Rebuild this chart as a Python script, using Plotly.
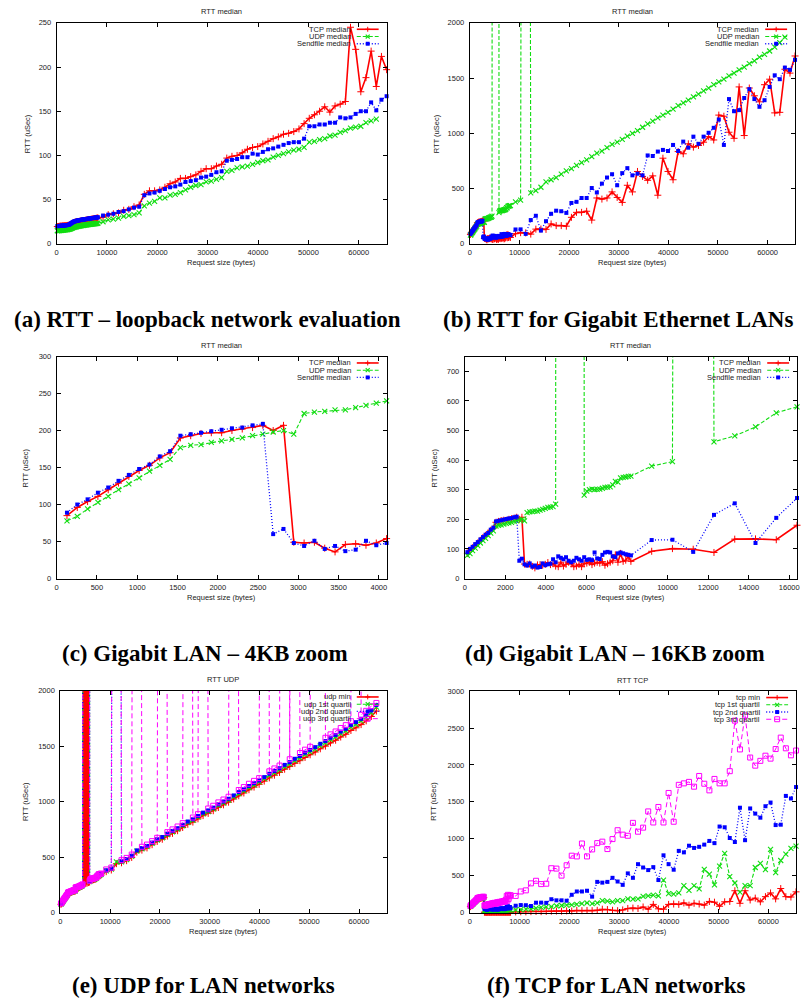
import plotly.graph_objects as go

W, H = 805, 1008

# request sizes (bytes): dense 128-byte steps up to 8 KB, then 1 KB steps up to 64 KB
SIZES = list(range(128, 8193, 128)) + list(range(9216, 65537, 1024))

# ---------------- (a) loopback medians ----------------
TCP_LO = [19.5, 19.6, 19.6, 19.8, 19.9, 20.0, 20.0, 20.1,
          20.2, 20.3, 20.3, 20.4, 20.5, 20.5, 20.6, 20.7,
          20.8, 20.9, 21.0, 21.2, 21.5, 21.9, 22.3, 22.8,
          23.2, 23.6, 24.0, 24.3, 24.5, 24.7, 24.9, 25.0,
          25.1, 25.2, 25.4, 25.5, 25.6, 25.8, 25.9, 26.0,
          26.1, 26.3, 26.4, 26.5, 26.6, 26.8, 26.9, 27.0,
          27.1, 27.3, 27.4, 27.5, 27.7, 27.8, 27.9, 28.1,
          28.2, 28.3, 28.5, 28.6, 28.8, 28.9, 29.1, 29.3,
          30, 33, 34, 35, 38, 39, 42, 44, 56, 60, 60, 61, 64, 68, 70, 74,
          74, 76, 78, 82, 85, 85, 88, 90, 97, 99, 100, 103, 107, 109, 110, 113,
          116, 119, 121, 124, 125, 127, 130, 136, 142, 146, 150, 155, 149, 156, 158, 161,
          245, 220, 172, 188, 218, 178, 212, 197]
UDP_LO = [14.8, 14.9, 15.0, 15.0, 15.1, 15.2, 15.3, 15.3,
          15.4, 15.5, 15.6, 15.7, 15.8, 15.9, 16.0, 16.1,
          16.2, 16.3, 16.5, 16.7, 17.0, 17.3, 17.6, 17.9,
          18.2, 18.5, 18.7, 18.9, 19.1, 19.3, 19.5, 19.7,
          19.8, 20.0, 20.1, 20.3, 20.4, 20.5, 20.7, 20.8,
          20.9, 21.0, 21.1, 21.3, 21.4, 21.5, 21.6, 21.7,
          21.8, 21.9, 22.0, 22.1, 22.2, 22.3, 22.4, 22.5,
          22.6, 22.7, 22.8, 22.9, 23.0, 23.1, 23.2, 23.4,
          25, 27, 28, 29, 31, 32, 33, 35, 43, 46, 48, 52, 52, 55, 56, 58,
          61, 64, 66, 67, 70, 71, 73, 75, 82, 83, 86, 87, 88, 90, 92, 94,
          95, 98, 100, 102, 104, 106, 107, 109, 115, 116, 118, 119, 122, 123, 126, 128,
          131, 132, 133, 137, 139, 141, None, None]
SF_LO = [20.0, 20.1, 20.1, 20.2, 20.3, 20.4, 20.5, 20.5,
         20.6, 20.7, 20.8, 20.8, 20.9, 21.0, 21.1, 21.2,
         21.3, 21.4, 21.6, 22.0, 22.5, 23.0, 23.5, 24.0,
         24.5, 24.9, 25.2, 25.5, 25.7, 25.9, 26.1, 26.3,
         26.4, 26.6, 26.7, 26.9, 27.0, 27.1, 27.3, 27.4,
         27.5, 27.6, 27.7, 27.9, 28.0, 28.1, 28.2, 28.3,
         28.4, 28.5, 28.6, 28.8, 28.9, 29.0, 29.1, 29.2,
         29.3, 29.4, 29.5, 29.6, 29.7, 29.8, 29.9, 30.0,
         32, 33, 34, 36, 37, 39, 41, 42, 55, 57, 58, 60, 62, 64, 65, 67,
         70, 71, 72, 75, 76, 78, 81, 82, 94, 95, 96, 98, 98, 102, 101, 104,
         107, 108, 110, 112, 114, 115, 115, 119, 133, 133, 135, 135, 137, 137, 143, 142,
         143, 147, 150, 150, 160, 151, 163, 167]

# ---------------- (b)(c)(d) Gigabit LAN medians ----------------
TCP_LAN = [85, 96, 104, 111, 120, 129, 138, 146, 153, 163, 170, 190, 193, 196, 197, 197,
           200, 202, 204, 207, 200, 207,
           49, 48, 49, 41, 36, 46, 47, 45, 48, 54,
           47, 50, 42, 40, 55, 42, 48, 55, 50, 40, 42, 48, 40, 50, 52, 55,
           47, 52, 55, 52, 57, 45, 50, 55, 60, 80, 55, 85, 58, 62, 75, 58,
           92, 101, 99, 88, 133, 134, 131, 180, 165, 165, 160, 240, 285, 285, 295, 215,
           415, 405, 415, 470, 420, 375, 530, 470, 655, 610, 575, 615, 440, 775, 655, 580,
           835, 815, 905, 875, 890, 920, 970, 940, 1165, 1155, 1010, 955, 1420, 980, 1410, 1340,
           1285, 1440, 1490, 1185, 1190, 1580, 1545, 1700]
UDP_LAN = [78, 84, 94, 103, 111, 120, 128, 136, 145, 153, 161, 177, 180, 181, 184, 186,
           188, 190, 193, 195, 198, 200,
           195, 223, 225, 226, 228, 228, 231, 234, 237, 240, 241, 243, 251,
           21400, 23800, 22600, 24100, 23300, 22900, 24700, 23600, 22200, 24400,
           282, 295, 300, 302, 300, 301, 302, 305, 308, 309, 310, 316, 328, 326, 340, 342,
           343, 345, 346,
           380, 395, 23900, 462, 482, 512, 560, 580,
           600, 630, 660, 680, 710, 735, 760, 790, 820, 840, 870, 900, 920, 945, 975, 1000,
           1025, 1055, 1085, 1110, 1140, 1165, 1190, 1220, 1250, 1275, 1300, 1330, 1355, 1385,
           1410, 1440, 1465, 1490, 1520, 1545, 1575, 1600, 1630, 1655, 1690, 1715, 1745, 1780,
           1820, 1870, None, None]
SF_LAN = [89, 100, 107, 116, 123, 132, 140, 148, 154, 165, 172, 193, 195, 197, 199, 201,
          203, 204, 207, 209, 60, 67,
          48, 44, 51, 40, 44, 37, 39, 51, 45, 48,
          50, 65, 55, 75, 70, 65, 72, 60, 55, 60, 70, 65, 60, 72, 63, 65,
          62, 88, 68, 66, 80, 88, 90, 88, 75, 72, 85, 88, 85, 82, 80, 78,
          130, 131, 90, 215, 254, 120, 205, 272, 300, 295, 280, 370, 380, 415, 415, 505,
          465, 545, 600, 630, 530, 640, 685, 620, 635, 620, 800, 795, 835, 850, 840, 895,
          840, 925, 870, 970, 905, 970, 1005, 1050, 1125, 895, 1310, 1200, 1210, 1320, 1400, 1310,
          1240, 1300, 1420, 1525, 1490, 1595, 1575, 1665]

# ---------------- (e) UDP quartiles (2nd quartile = UDP_LAN) ----------------
UDP_MIN = [74, 80, 90, 99, 107, 116, 124, 132, 140, 148, 156, 172, 175, 176, 179, 181,
           183, 185, 188, 190, 193, 195,
           190, 216, 219, 220, 222, 222, 225, 228, 231, 234, 235, 237, 244,
           255, 22800, 258, 23500, 262, 21900, 265, 24200, 270, 273,
           276, 288, 293, 295, 294, 295, 296, 299, 301, 302, 303, 308, 320, 319, 332, 334,
           335, 337, 338,
           368, 383, 440, 448, 467, 496, 543, 562,
           582, 611, 640, 660, 689, 713, 737, 766, 795, 815, 844, 873, 893, 917, 946, 970,
           994, 1023, 1052, 1077, 1106, 1130, 1155, 1184, 1213, 1237, 1262, 1291, 1315, 1344,
           1368, 1397, 1421, 1446, 1475, 1499, 1528, 1552, 1581, 1606, 1640, 1664, 1693, 1727,
           1766, 1815, None, None]
UDP_Q1 = [76, 82, 92, 101, 109, 118, 126, 134, 143, 151, 159, 175, 178, 179, 182, 184,
          186, 188, 191, 193, 196, 198,
          193, 220, 222, 223, 225, 225, 228, 231, 234, 237, 238, 240, 248,
          22100, 24300, 23000, 21800, 24600, 23200, 22400, 23900, 21600, 24800,
          279, 292, 297, 299, 297, 298, 299, 302, 305, 306, 307, 313, 325, 323, 337, 339,
          340, 342, 343,
          375, 390, 456, 456, 476, 506, 553, 573,
          593, 622, 652, 672, 701, 726, 751, 780, 810, 830, 859, 889, 909, 933, 963, 988,
          1013, 1042, 1072, 1097, 1126, 1151, 1176, 1206, 1235, 1260, 1285, 1315, 1340, 1369,
          1394, 1424, 1448, 1473, 1503, 1528, 1557, 1582, 1612, 1637, 1671, 1696, 1726, 1761,
          1801, 1851, None, None]
UDP_Q3 = [81, 87, 97, 106, 114, 123, 131, 139, 148, 156, 164, 180, 183, 184, 187, 189,
          191, 193, 196, 198, 201, 203,
          198, 226, 228, 229, 231, 231, 234, 237, 240, 243, 244, 246, 254,
          23700, 22500, 24900, 23100, 22000, 24500, 23400, 22700, 24100, 23000,
          286, 299, 304, 306, 304, 305, 306, 309, 312, 313, 314, 320, 332, 330, 344, 346,
          347, 349, 350,
          388, 405, 24300, 472, 492, 522, 23800, 592,
          612, 643, 673, 22900, 724, 749, 775, 805, 24600, 856, 886, 23400, 937, 962, 992, 1018,
          1043, 22100, 1104, 1130, 1160, 1186, 1211, 23700, 1272, 1298, 1324, 24200, 1381, 22800,
          1437, 1467, 1493, 23500, 24000, 1574, 1605, 1631, 1662, 1688, 1724, 22600, 1781, 1817,
          1858, 1888, None, None]

# ---------------- (f) TCP quartiles (2nd quartile = TCP_LAN) ----------------
TCP_MIN = [80, 91, 99, 106, 115, 124, 133, 141, 148, 158, 165, 185, 188, 191, 192, 192,
           195, 197, 199, 202, 195, 202,
           4, 3, 4, 2, 3, 4, 3, 5, 4, 3,
           3, 4, 3, 5, 4, 3, 4, 5, 3, 4, 4, 3, 5, 4, 3, 4,
           5, 4, 3, 4, 5, 3, 4, 4, 5, 3, 4, 5, 4, 3, 5, 4,
           8, 10, 9, 12, 14, 12, 15, 18, 20, 18, 22, 20, 30, 25, 28, 25,
           30, 45, 40, 30, 25, 35, 55, 60, 55, 75, 45, 110, 50, 45, 110, 115,
           110, 130, 100, 125, 115, 100, 150, 140, 85, 145, 150, 295, 125, 295, 170, 195,
           145, 215, 265, 185, 325, 215, 210, 280]
TCP_Q1 = [83, 94, 102, 109, 118, 127, 136, 144, 151, 161, 168, 188, 191, 194, 195, 195,
          198, 200, 202, 205, 198, 205,
          30, 28, 31, 27, 25, 29, 30, 28, 31, 33,
          30, 32, 29, 28, 34, 29, 31, 34, 32, 28, 29, 31, 28, 32, 33, 34,
          30, 33, 34, 33, 35, 30, 32, 34, 36, 42, 35, 44, 36, 38, 41, 36,
          35, 40, 45, 50, 60, 70, 75, 80, 90, 95, 100, 105, 110, 120, 130, 120,
          130, 160, 155, 145, 160, 160, 185, 180, 185, 220, 225, 235, 225, 440, 255, 250,
          265, 365, 300, 365, 320, 585, 520, 375, 630, 800, 485, 400, 275, 365, 365, 610,
          665, 580, 855, 540, 705, 790, 870, 900]
TCP_Q3 = [90, 101, 109, 116, 125, 134, 143, 151, 158, 168, 175, 195, 198, 201, 202, 203,
          206, 208, 210, 213, 207, 214,
          95, 100, 92, 105, 98, 110, 104, 115, 108, 112,
          118, 110, 125, 115, 128, 120, 132, 125, 118, 135, 128, 140, 130, 138, 145, 135,
          142, 150, 140, 148, 155, 145, 160, 150, 175, 225, 160, 240, 185, 230, 220, 235,
          225, 285, 300, 395, 430, 385, 390, 600, 595, 500, 640, 770, 760, 935, 760, 855,
          940, 960, 860, 995, 1115, 1055, 1040, 1215, 1095, 1150, 1370, 1220, 1430, 1220, 1620, 1230,
          1730, 1750, 1770, 1705, 1850, 1745, 1655, 1810, 1750, 1750, 1915, 2600, 2210, 2670, 2100, 1990,
          2055, 2125, 2085, 2215, 2370, 2225, 2130, 2195]

for arr in [TCP_LO, UDP_LO, SF_LO, TCP_LAN, UDP_LAN, SF_LAN, UDP_MIN, UDP_Q1, UDP_Q3,
            TCP_MIN, TCP_Q1, TCP_Q3]:
    assert len(arr) == len(SIZES), len(arr)

FONT = "Liberation Sans"
TXT = "#222222"

STYLE = {
    'red': dict(color='#ff0000', dash='solid', width=1.6, symbol='cross-thin', msize=5, mlw=1.0),
    'green': dict(color='#11dd11', dash='4px,2px', width=1.1, symbol='x-thin', msize=5, mlw=1.1),
    'blue': dict(color='#0000ff', dash='1px,2px', width=1.3, symbol='square', msize=4, mlw=0),
    'magenta': dict(color='#ff00ff', dash='5px,3px', width=1.0, symbol='square-open', msize=5, mlw=1.0),
}

PANELS = [
    dict(box=(55, 19, 387, 242), xmax=65536, xdt=10000, ymax=250, ydt=50, title='RTT median',
         series=[(TCP_LO, 'TCP median', 'red'), (UDP_LO, 'UDP median', 'green'),
                 (SF_LO, 'Sendfile median', 'blue')],
         caption='(a) RTT – loopback network evaluation', cap=(207, 318), ytd=30),
    dict(box=(470.7, 19, 798, 242), xmax=65536, xdt=10000, ymax=2000, ydt=500, title='RTT median',
         series=[(TCP_LAN, 'TCP median', 'red'), (UDP_LAN, 'UDP median', 'green'),
                 (SF_LAN, 'Sendfile median', 'blue')],
         caption='(b) RTT for Gigabit Ethernet LANs', cap=(620, 318), ytd=34),
    dict(box=(55, 355.7, 387, 579.7), xmax=4096, xdt=500, ymax=300, ydt=50, title='RTT median',
         series=[(TCP_LAN, 'TCP median', 'red'), (UDP_LAN, 'UDP median', 'green'),
                 (SF_LAN, 'Sendfile median', 'blue')],
         caption='(c) Gigabit LAN – 4KB zoom', cap=(204, 655), ytd=31),
    dict(box=(465.7, 355.7, 800, 579.7), xmax=16384, xdt=2000, ymax=750, ydt=100, title='RTT median',
         series=[(TCP_LAN, 'TCP median', 'red'), (UDP_LAN, 'UDP median', 'green'),
                 (SF_LAN, 'Sendfile median', 'blue')],
         caption='(d) Gigabit LAN – 16KB zoom', cap=(617, 655), ytd=30),
    dict(box=(58.7, 692.7, 387, 916.7), xmax=65536, xdt=10000, ymax=2000, ydt=500, title='RTT UDP',
         series=[(UDP_MIN, 'udp min', 'red'), (UDP_Q1, 'udp 1st quartil', 'green'),
                 (UDP_LAN, 'udp 2nd quartil', 'blue'), (UDP_Q3, 'udp 3rd quartil', 'magenta')],
         caption='(e) UDP for LAN networks', cap=(203, 990), ytd=35),
    dict(box=(470.7, 693.3, 799, 916.7), xmax=65536, xdt=10000, ymax=3000, ydt=500, title='RTT TCP',
         series=[(TCP_MIN, 'tcp min', 'red'), (TCP_Q1, 'tcp 1st quartil', 'green'),
                 (TCP_LAN, 'tcp 2nd quartil', 'blue'), (TCP_Q3, 'tcp 3rd quartil', 'magenta')],
         caption='(f) TCP for LAN networks', cap=(618, 990), ytd=36),
]


def fx(p):
    return p / W


def fy(p):
    return 1 - p / H


fig = go.Figure()
layout = dict(width=W, height=H, margin=dict(l=0, r=0, t=0, b=0),
              paper_bgcolor='white', plot_bgcolor='white', showlegend=False)
annotations = []
shapes = []

for i, P in enumerate(PANELS):
    n = '' if i == 0 else str(i + 1)
    x0, y0, x1, y1 = P['box']
    axcommon = dict(showline=True, linecolor='black', linewidth=1, mirror='ticks',
                    ticks='inside', ticklen=4, tickcolor='black', tickwidth=1,
                    showgrid=False, zeroline=False,
                    tickfont=dict(family=FONT, size=7.5, color=TXT))
    layout['xaxis' + n] = dict(domain=[fx(x0), fx(x1)], range=[0, P['xmax']], dtick=P['xdt'],
                               tick0=0, tickformat='d', anchor='y' + n, ticklabelstandoff=1,
                               **axcommon)
    layout['yaxis' + n] = dict(domain=[fy(y1), fy(y0)], range=[0, P['ymax']], dtick=P['ydt'],
                               tick0=0, tickformat='d', anchor='x' + n, ticklabelstandoff=3,
                               **axcommon)
    for ys, name, st in P['series']:
        s = STYLE[st]
        xs = [x for x in SIZES if x <= P['xmax']]
        yv = ys[:len(xs)]
        fig.add_trace(go.Scatter(
            x=xs, y=yv, mode='lines+markers', name=name, xaxis='x' + n, yaxis='y' + n,
            cliponaxis=False, connectgaps=False,
            line=dict(color=s['color'], width=s['width'], dash=s['dash']),
            marker=dict(symbol=s['symbol'], size=s['msize'], color=s['color'],
                        line=dict(color=s['color'], width=s['mlw']))))
    # titles
    annotations.append(dict(text=P['title'], x=fx((x0 + x1) / 2), y=fy(y0 - 11), xref='paper',
                            yref='paper', showarrow=False, xanchor='center', yanchor='middle',
                            font=dict(family=FONT, size=7.5, color=TXT)))
    annotations.append(dict(text='Request size (bytes)', x=fx((x0 + x1) / 2), y=fy(y1 + 19),
                            xref='paper', yref='paper', showarrow=False, xanchor='center',
                            yanchor='middle', font=dict(family=FONT, size=7.5, color=TXT)))
    annotations.append(dict(text='RTT (uSec)', x=fx(x0 - P['ytd']), y=fy((y0 + y1) / 2),
                            xref='paper', yref='paper', showarrow=False, textangle=-90,
                            xanchor='center', yanchor='middle',
                            font=dict(family=FONT, size=7.5, color=TXT)))
    annotations.append(dict(text=P['caption'], x=fx(P['cap'][0]), y=fy(P['cap'][1]),
                            xref='paper', yref='paper', showarrow=False, xanchor='center',
                            yanchor='middle',
                            font=dict(family='Liberation Serif', size=23, color='black',
                                      weight='bold')))
    # gnuplot-style key (text right-aligned, then line sample with point)
    for j, (ys, name, st) in enumerate(P['series']):
        s = STYLE[st]
        ry = y0 + 6.5 + 7.3 * j
        annotations.append(dict(text=name, x=fx(x1 - 34), y=fy(ry), xref='paper', yref='paper',
                                showarrow=False, xanchor='right', yanchor='middle',
                                font=dict(family=FONT, size=7.5, color=TXT)))
        shapes.append(dict(type='line', xref='paper', yref='paper', x0=fx(x1 - 30), x1=fx(x1 - 8),
                           y0=fy(ry), y1=fy(ry),
                           line=dict(color=s['color'], width=s['width'], dash=s['dash'])))
        cx, r = x1 - 19, 2.5
        if st == 'red':
            shapes.append(dict(type='line', xref='paper', yref='paper', x0=fx(cx - r), x1=fx(cx + r),
                               y0=fy(ry), y1=fy(ry), line=dict(color=s['color'], width=1.0)))
            shapes.append(dict(type='line', xref='paper', yref='paper', x0=fx(cx), x1=fx(cx),
                               y0=fy(ry - r), y1=fy(ry + r), line=dict(color=s['color'], width=1.0)))
        elif st == 'green':
            shapes.append(dict(type='line', xref='paper', yref='paper', x0=fx(cx - 2), x1=fx(cx + 2),
                               y0=fy(ry - 2), y1=fy(ry + 2), line=dict(color=s['color'], width=1.1)))
            shapes.append(dict(type='line', xref='paper', yref='paper', x0=fx(cx - 2), x1=fx(cx + 2),
                               y0=fy(ry + 2), y1=fy(ry - 2), line=dict(color=s['color'], width=1.1)))
        elif st == 'blue':
            shapes.append(dict(type='rect', xref='paper', yref='paper', x0=fx(cx - 2), x1=fx(cx + 2),
                               y0=fy(ry - 2), y1=fy(ry + 2), fillcolor=s['color'],
                               line=dict(width=0)))
        else:
            shapes.append(dict(type='rect', xref='paper', yref='paper', x0=fx(cx - 2.5), x1=fx(cx + 2.5),
                               y0=fy(ry - 2.5), y1=fy(ry + 2.5), fillcolor='rgba(0,0,0,0)',
                               line=dict(color=s['color'], width=1)))

layout['annotations'] = annotations
layout['shapes'] = shapes
fig.update_layout(**layout)
fig.write_html("out.html")
